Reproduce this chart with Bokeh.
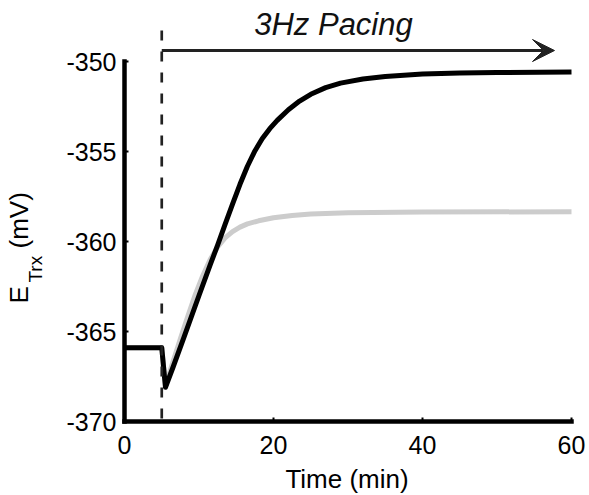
import math
from bokeh.plotting import figure
from bokeh.models import Range1d, Label, Arrow, VeeHead, FixedTicker
from bokeh.embed import file_html
from bokeh.resources import INLINE

# ---- data ----
time_black = [0, 5.0, 5.5, 6.5, 8.0, 10.0, 11.5, 12.5, 13.5, 14.5, 15.5, 16.5, 17.5,
              18.5, 19.5, 20.5, 22.0, 23.5, 25.0, 27.0, 29.0, 32.0, 35.0, 40.0, 45.0, 50.0, 60.0]
etrx_black = [-365.9, -365.9, -368.1, -367.0, -365.3, -363.0, -361.3, -360.2, -359.05, -357.92,
              -356.82, -355.82, -354.97, -354.28, -353.73, -353.27, -352.68, -352.2, -351.82,
              -351.45, -351.2, -350.97, -350.83, -350.7, -350.64, -350.61, -350.58]

time_gray = [0, 5.0, 5.5, 6.5, 7.5, 8.5, 9.5, 10.5, 11.5, 12.5, 13.5, 14.5, 15.5, 16.5,
             18.0, 20.0, 22.5, 25.0, 30.0, 40.0, 60.0]
etrx_gray = [-365.9, -365.9, -368.0, -366.7, -365.4, -364.15, -362.95, -361.9, -361.0, -360.3,
             -359.8, -359.45, -359.2, -359.02, -358.85, -358.68, -358.55, -358.47, -358.4,
             -358.36, -358.35]

pacing_start = 5.0
pacing_label = "3Hz Pacing"
x_title = "Time (min)"
y_title_main, y_title_sub, y_title_unit = "E", "Trx", "(mV)"

x_ticks = [0, 20, 40, 60]
x_tick_labels = ["0", "20", "40", "60"]
y_ticks = [-370, -365, -360, -355, -350]
y_tick_labels = ["-370", "-365", "-360", "-355", "-350"]

FONT = "Liberation Sans"
W, H = 589, 495
X0_PX, PX_PER_MIN = 124.0, 7.45      # pixel of t=0, pixels per minute
Y350_PX, PX_PER_MV = 61.0, 18.0      # pixel of -350 mV, pixels per mV

x_range = Range1d(-X0_PX / PX_PER_MIN, (W - X0_PX) / PX_PER_MIN)
y_range = Range1d(-350 - (H - Y350_PX) / PX_PER_MV, -350 + Y350_PX / PX_PER_MV)

p = figure(width=W, height=H, output_backend="svg", toolbar_location=None,
           x_range=x_range, y_range=y_range,
           min_border_left=0, min_border_right=0, min_border_top=0, min_border_bottom=0)
p.outline_line_color = None
p.grid.visible = False
p.background_fill_color = "white"
p.border_fill_color = "white"

for ax, ticks, labels, bounds, loc in ((p.xaxis[0], x_ticks, x_tick_labels, (0, 60), -370),
                                       (p.yaxis[0], y_ticks, y_tick_labels, (-370, -350), 0)):
    ax.fixed_location = loc
    ax.ticker = FixedTicker(ticks=ticks)
    ax.major_label_overrides = {t: l for t, l in zip(ticks, labels)}
    ax.bounds = bounds
    ax.axis_line_width = 4.5
    ax.axis_line_color = "black"
    ax.axis_line_cap = "square"
    ax.major_tick_in = 4
    ax.major_tick_out = 0
    ax.major_tick_line_width = 2
    ax.major_tick_line_color = "black"
    ax.minor_tick_line_color = None
    ax.major_label_text_font = FONT
    ax.major_label_text_font_size = "25px"
    ax.major_label_text_color = "black"
p.xaxis.major_label_standoff = 14
p.yaxis.major_label_standoff = 8

# curves
p.line(time_gray, etrx_gray, line_color="#cccccc", line_width=5, line_join="round")
p.line(time_black, etrx_black, line_color="black", line_width=5, line_join="round")

# pacing onset marker and arrow
p.line([pacing_start, pacing_start], [-348.28, -370], line_color="#222222", line_width=2.7,
       line_dash="10 11")
p.add_layout(Arrow(x_start=pacing_start, y_start=-349.39, x_end=57.72, y_end=-349.39,
                   line_color="#222222", line_width=3,
                   end=VeeHead(size=22, fill_color="#222222", line_color="#222222")))
p.add_layout(Label(x=28.05, y=-347.94, text=pacing_label, text_font=FONT,
                   text_font_size="31px", text_font_style="italic", text_color="#111111",
                   text_align="center", text_baseline="alphabetic"))

# axis titles
p.add_layout(Label(x=29.87, y=-373.2, text=x_title, text_font=FONT, text_font_size="26px",
                   text_color="black", text_align="center", text_baseline="alphabetic"))
p.add_layout(Label(x=-14.1, y=-363.44, text=y_title_main, angle=math.pi / 2, text_font=FONT,
                   text_font_size="26px", text_color="black", text_align="left",
                   text_baseline="alphabetic"))
p.add_layout(Label(x=-11.95, y=-362.28, text=y_title_sub, angle=math.pi / 2, text_font=FONT,
                   text_font_size="19px", text_color="black", text_align="left",
                   text_baseline="alphabetic"))
p.add_layout(Label(x=-14.1, y=-360.39, text=y_title_unit, angle=math.pi / 2, text_font=FONT,
                   text_font_size="26px", text_color="black", text_align="left",
                   text_baseline="alphabetic"))

open("out.html", "w").write(file_html(p, INLINE))
